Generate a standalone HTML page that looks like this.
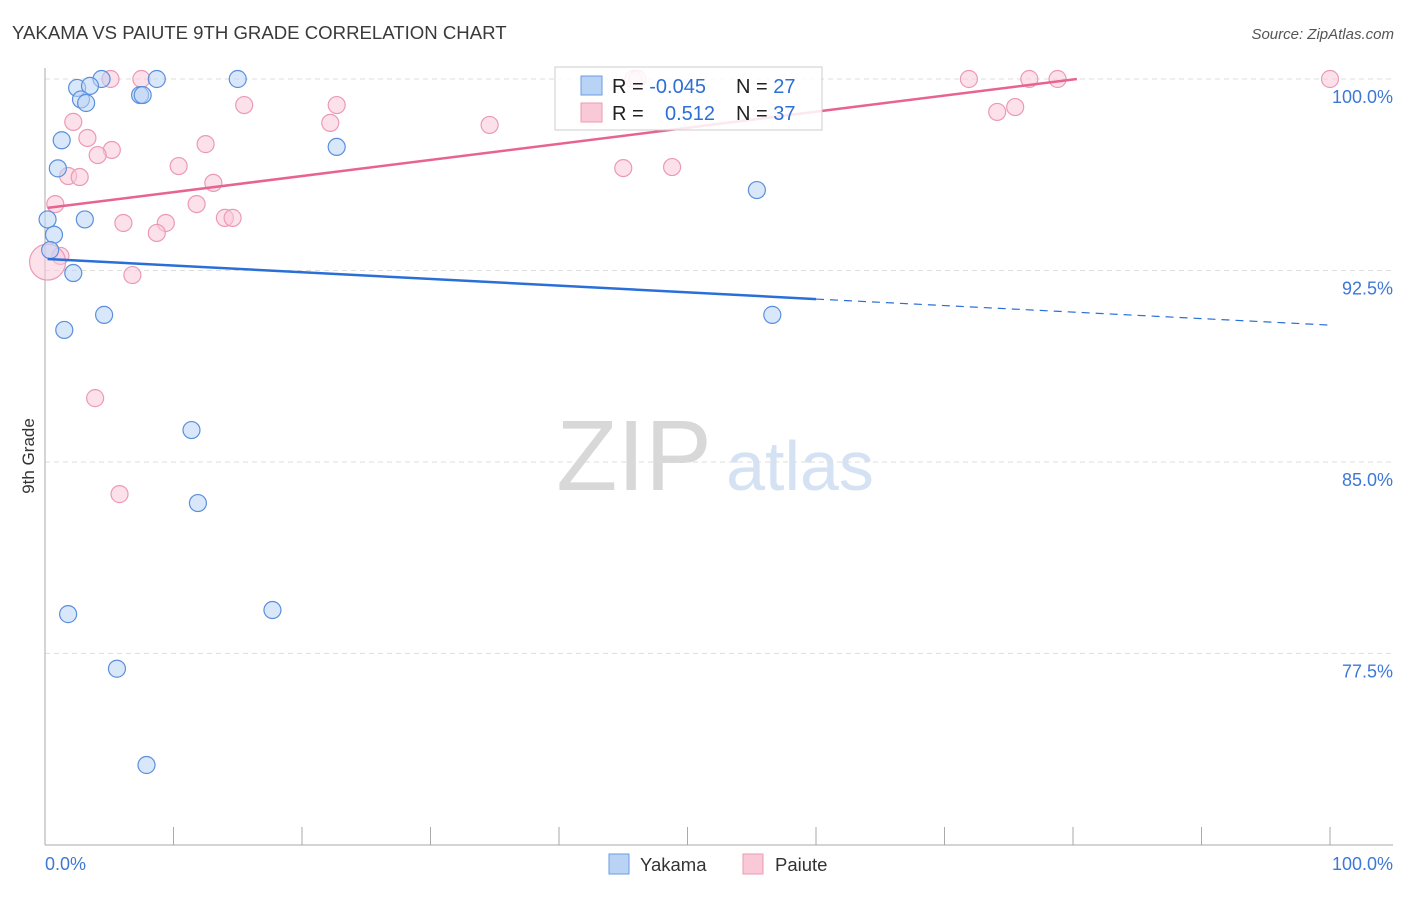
<!DOCTYPE html>
<html><head><meta charset="utf-8">
<style>
body{margin:0;background:#fff;font-family:"Liberation Sans",sans-serif;}
svg text{font-family:"Liberation Sans",sans-serif;}
</style></head>
<body>
<svg id="chart" width="1406" height="892" xmlns="http://www.w3.org/2000/svg">
<text x="12" y="39" font-size="18.6" fill="#3a3a3a">YAKAMA VS PAIUTE 9TH GRADE CORRELATION CHART</text>
<text x="1394" y="39" font-size="15" fill="#555" text-anchor="end" font-style="italic">Source: ZipAtlas.com</text>
<g>
<text x="634" y="490" font-size="100" fill="#d8d8d8" text-anchor="middle" font-family="Liberation Serif, serif">ZIP</text>
<text x="800" y="490" font-size="70" fill="#d4e2f4" text-anchor="middle">atlas</text>
</g>
<g id="grid"></g>
<g id="axes"></g>
<g id="marks"></g>
<text transform="translate(34,456) rotate(-90)" font-size="17" fill="#333" text-anchor="middle">9th Grade</text>
<g>
<rect x="555" y="67" width="267" height="63" fill="#fff" fill-opacity="0.85" stroke="#ccc"/>
<rect x="581" y="76" width="21" height="19" fill="#b9d3f5" stroke="#6a9be0"/>
<rect x="581" y="103" width="21" height="19" fill="#f9c9d8" stroke="#ec9ab4"/>
<text x="612" y="93" font-size="20" fill="#222">R = <tspan fill="#2d6fd6">-0.045</tspan><tspan x="736">N = </tspan><tspan fill="#2d6fd6">27</tspan></text>
<text x="612" y="120" font-size="20" fill="#222">R = <tspan x="665" fill="#2d6fd6">0.512</tspan><tspan x="736">N = </tspan><tspan fill="#2d6fd6">37</tspan></text>
</g>
<g>
<rect x="609" y="854" width="20" height="20" fill="#b9d3f5" stroke="#6a9be0"/>
<text x="640" y="871" font-size="18.5" fill="#333">Yakama</text>
<rect x="743" y="854" width="20" height="20" fill="#f9c9d8" stroke="#ec9ab4"/>
<text x="775" y="871" font-size="18.5" fill="#333">Paiute</text>
</g>
</svg>
<script>
const yTicks=[100,92.5,85,77.5];
const yTickLabels=["100.0%","92.5%","85.0%","77.5%"];
const xTickLabels=["0.0%","100.0%"];
const yakamaX=[4.4,8.7,15.0,2.5,3.5,2.8,3.2,7.4,7.6,1.3,1.0,3.1,0.2,0.7,0.4,2.2,4.6,1.5,22.7,55.4,56.6,11.4,11.9,1.8,17.7,5.6,7.9];
const yakamaY=[100,100,100,99.65,99.73,99.2,99.06,99.37,99.37,97.6,96.5,94.5,94.5,93.9,93.3,92.4,90.76,90.17,97.34,95.65,90.76,86.25,83.39,79.04,79.2,76.9,73.13];
const paiuteX=[5.1,7.5,45.8,46.1,71.9,76.6,78.8,100,15.5,22.7,2.2,3.3,22.2,34.6,5.2,4.1,12.5,10.4,45.0,48.8,1.8,2.7,13.1,0.8,11.8,6.1,9.4,14.0,14.6,8.7,1.2,0.2,6.8,3.9,5.8,74.1,75.5];
const paiuteY=[100,100,100,100,100,100,100,100,98.98,98.98,98.32,97.69,98.28,98.2,97.22,97.02,97.45,96.59,96.51,96.55,96.2,96.16,95.93,95.1,95.1,94.36,94.36,94.56,94.56,93.97,93.07,92.83,92.32,87.5,83.74,98.71,98.9];
const yakamaTrend=[[0.2,92.95],[60,91.38],[100,90.36]];
const paiuteTrend=[[0.2,94.95],[80.3,100]];

const NS="http://www.w3.org/2000/svg";
const X=v=>45+v*12.85, Y=v=>79+(100-v)*25.53;
function mk(tag,attrs,parent){const e=document.createElementNS(NS,tag);for(const k in attrs)e.setAttribute(k,attrs[k]);parent.appendChild(e);return e;}
const grid=document.getElementById('grid'),axes=document.getElementById('axes'),marks=document.getElementById('marks');
yTicks.forEach((t,i)=>{
 const l=mk('line',{x1:45,x2:1393,y1:Y(t),y2:Y(t),stroke:'#ddd','stroke-dasharray':'5,4'},grid);
 
 
 const tx=mk('text',{x:1393,y:Y(t)+24,'font-size':18,fill:'#3d78d6','text-anchor':'end'},axes);
 tx.textContent=yTickLabels[i];
 
 
});
const ya=mk('line',{x1:45,x2:45,y1:68,y2:845,stroke:'#aaa'},axes);


const xa=mk('line',{x1:45,x2:1393,y1:845,y2:845,stroke:'#aaa'},axes);


for(let i=0;i<=10;i++){
 const t=mk('line',{x1:X(i*10),x2:X(i*10),y1:827,y2:845,stroke:'#aaa'},axes);
 
 
}
[[0,'start',45],[1,'end',1393]].forEach(([i,a,x])=>{
 const tx=mk('text',{x:x,y:870,'font-size':18,fill:'#3d78d6','text-anchor':a},axes);
 tx.textContent=xTickLabels[i];
 
 
});
function pts(xs,ys,fill,stroke,name){
 xs.forEach((x,i)=>{
  const r=(name==='paiute-point'&&x<0.5&&ys[i]<93)?18:8.5;
  const c=mk('circle',{cx:X(x),cy:Y(ys[i]),r:r,fill:fill,'fill-opacity':0.55,stroke:stroke,'stroke-width':1.2},marks);
  
  
 });
}
pts(paiuteX,paiuteY,'#f9c9d8','#ec9ab4','paiute-point');
pts(yakamaX,yakamaY,'#b9d3f5','#5b8fdc','yakama-point');
const b1=mk('line',{x1:X(yakamaTrend[0][0]),y1:Y(yakamaTrend[0][1]),x2:X(yakamaTrend[1][0]),y2:Y(yakamaTrend[1][1]),stroke:'#2a6fd8','stroke-width':2.5},marks);


const b2=mk('line',{x1:X(yakamaTrend[1][0]),y1:Y(yakamaTrend[1][1]),x2:X(yakamaTrend[2][0]),y2:Y(yakamaTrend[2][1]),stroke:'#2a6fd8','stroke-width':1.2,'stroke-dasharray':'8,6'},marks);


const p1=mk('line',{x1:X(paiuteTrend[0][0]),y1:Y(paiuteTrend[0][1]),x2:X(paiuteTrend[1][0]),y2:Y(paiuteTrend[1][1]),stroke:'#e8638f','stroke-width':2.5},marks);


</script>
</body></html>
